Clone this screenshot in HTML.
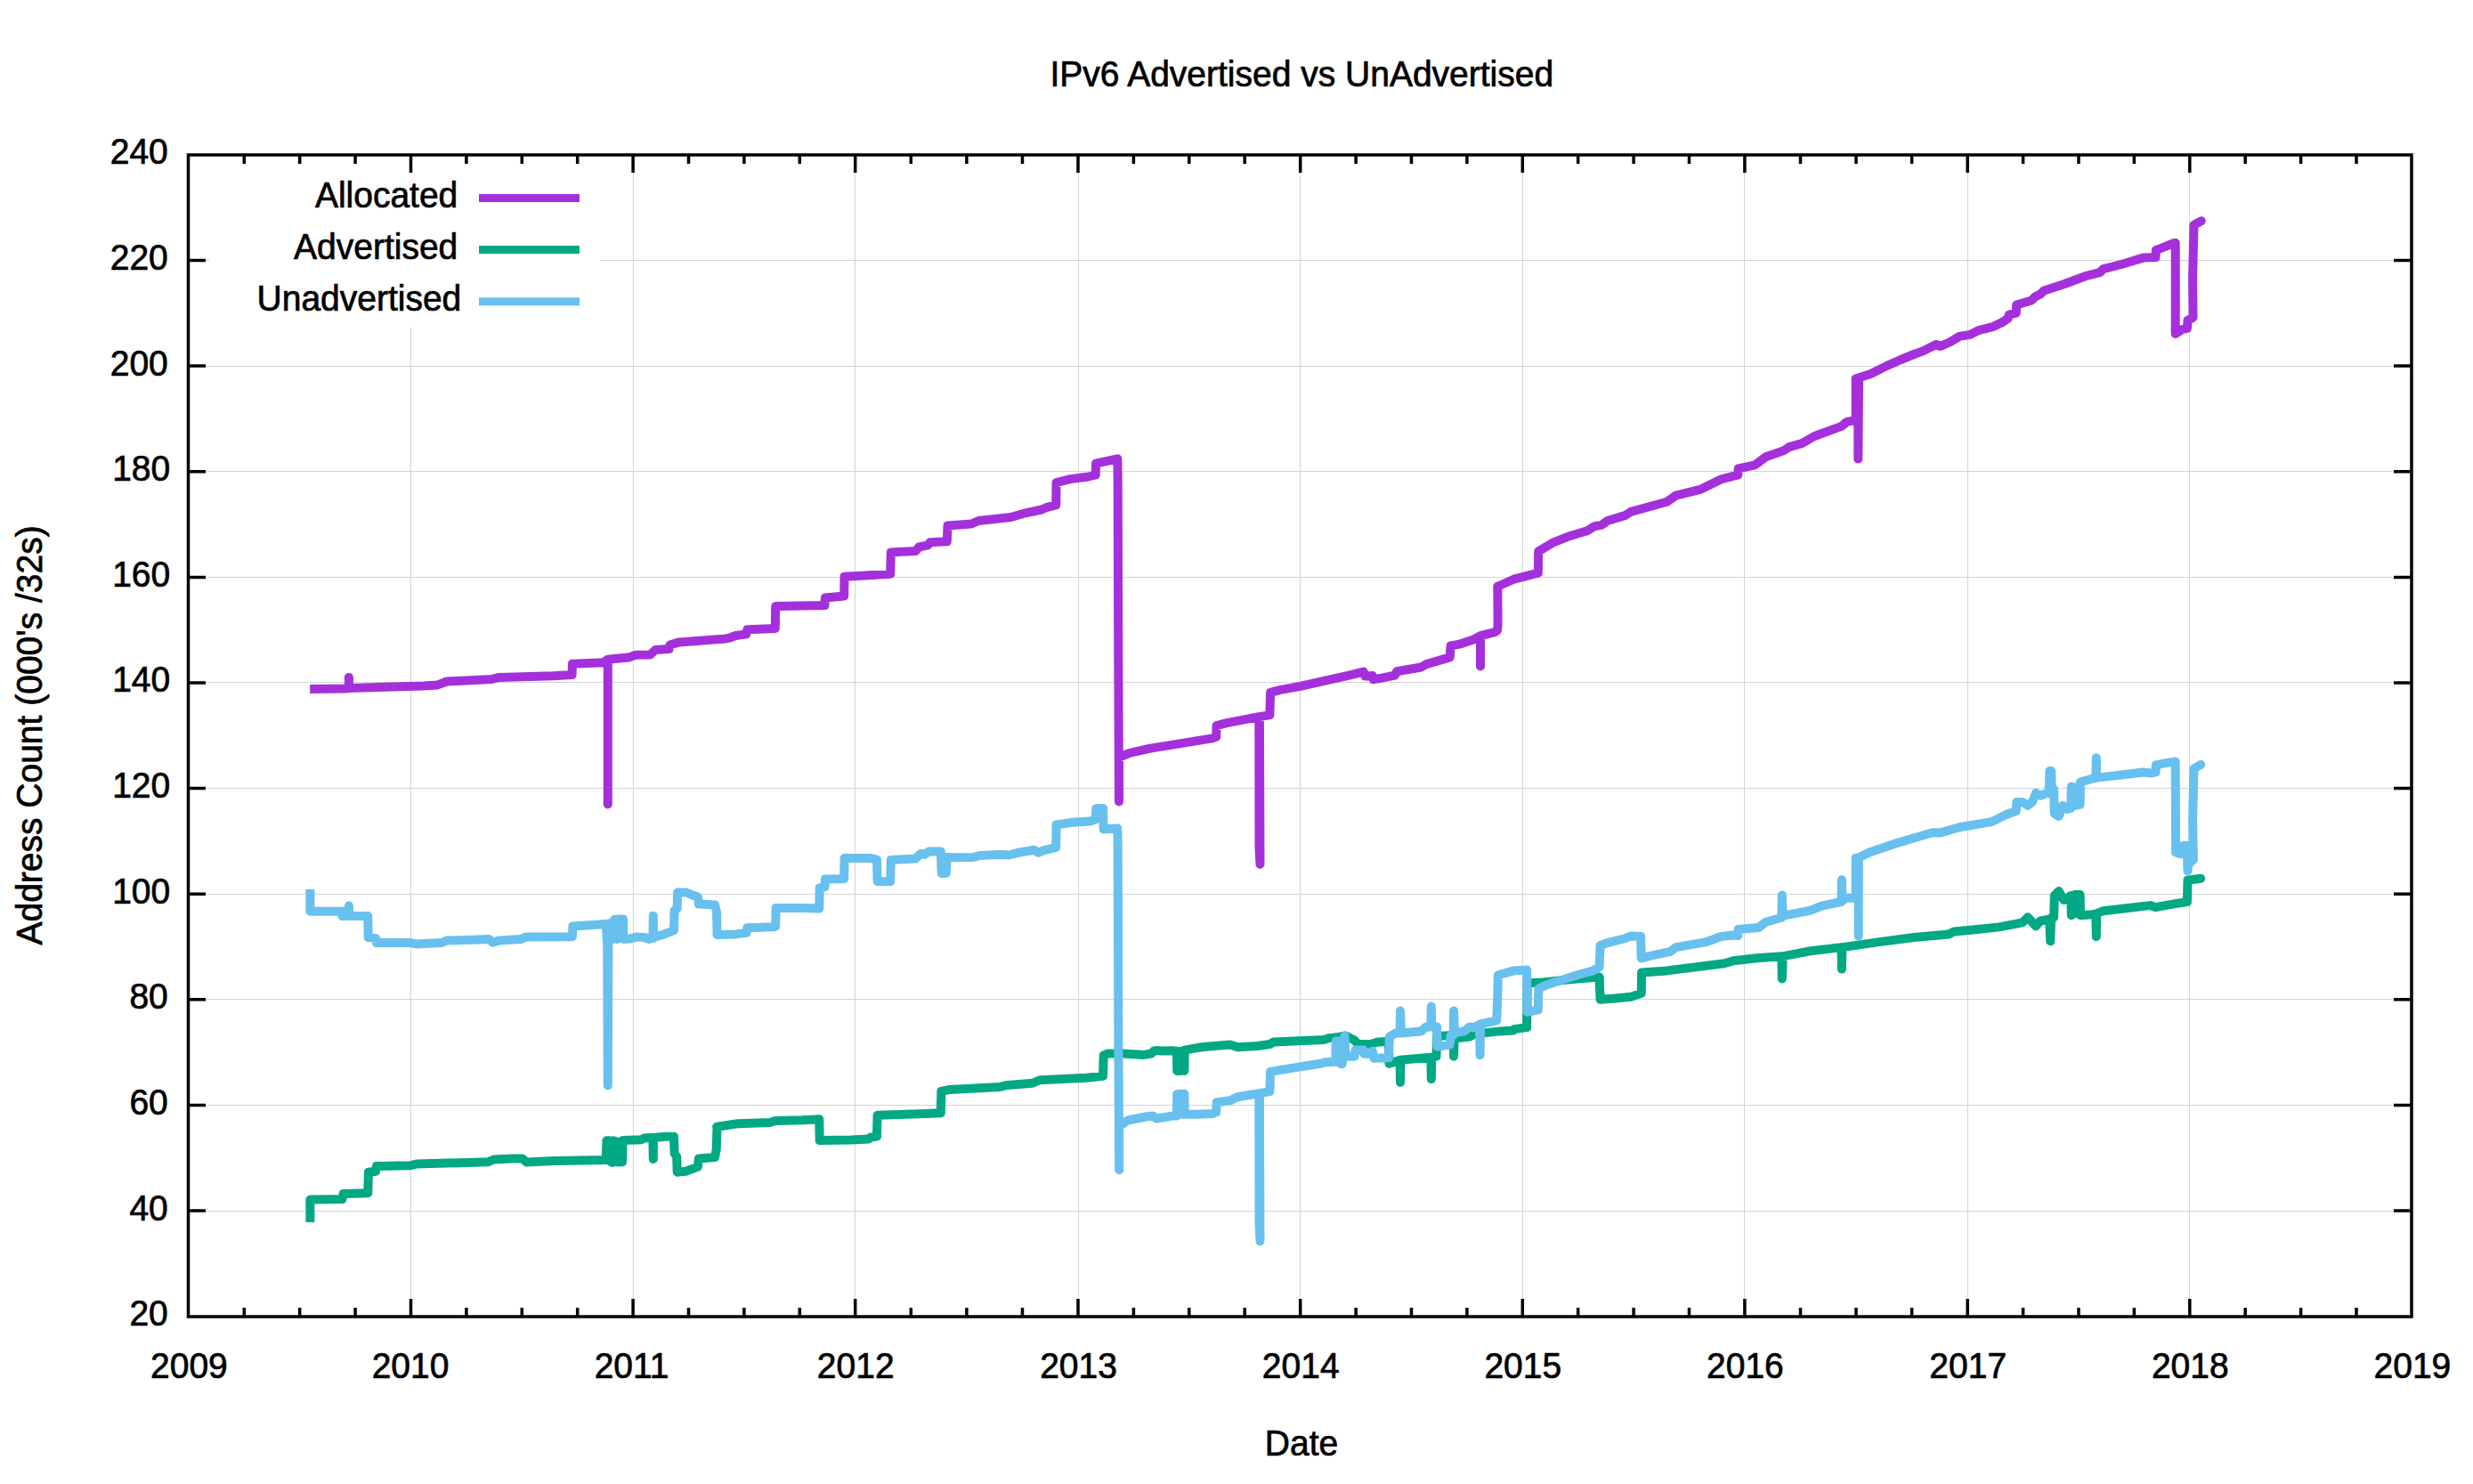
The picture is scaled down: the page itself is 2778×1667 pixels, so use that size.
<!DOCTYPE html>
<html><head><meta charset="utf-8"><title>IPv6 Advertised vs UnAdvertised</title>
<style>html,body{margin:0;padding:0;background:#fff;}svg{display:block;}text{font-family:"Liberation Sans",sans-serif;font-size:39px;fill:#000;}</style></head><body>
<svg width="2778" height="1667" viewBox="0 0 2778 1667">
<rect width="2778" height="1667" fill="#fff"/>
<path d="M461.5 174.0V1479.0M711.5 174.0V1479.0M960.5 174.0V1479.0M1211.5 174.0V1479.0M1460.5 174.0V1479.0M1710.5 174.0V1479.0M1959.5 174.0V1479.0M2210.5 174.0V1479.0M2459.5 174.0V1479.0M211.5 1360.5H2709.0M211.5 1241.5H2709.0M211.5 1122.5H2709.0M211.5 1004.5H2709.0M211.5 885.5H2709.0M211.5 766.5H2709.0M211.5 648.5H2709.0M211.5 529.5H2709.0M211.5 411.5H2709.0M211.5 292.5H2709.0" stroke="#d4d4d4" stroke-width="1" fill="none" shape-rendering="crispEdges"/>
<circle cx="2473.0" cy="248.1" r="4.8" fill="#a430db"/><path d="M348.2 774.0 L387.6 773.4 L391.9 773.0 L391.9 760.9 L391.9 773.0 L425.0 772.0 L475.6 770.4 L491.7 769.4 L501.9 765.5 L552.4 762.9 L560.5 760.9 L621.1 759.3 L642.6 758.0 L643.0 745.7 L677.8 744.3 L682.8 740.7 L682.8 903.4 L682.8 740.7 L706.1 738.6 L714.1 735.8 L730.3 735.4 L736.4 730.1 L751.6 729.1 L752.6 724.5 L762.7 721.4 L815.2 717.4 L820.2 716.4 L826.3 714.0 L838.4 712.4 L839.4 707.3 L870.8 705.9 L871.2 681.1 L926.4 680.1 L927.0 671.6 L948.2 669.5 L948.6 647.7 L967.8 646.7 L1000.2 644.7 L1000.8 620.4 L1028.5 619.0 L1032.5 614.3 L1042.6 612.3 L1044.6 609.3 L1063.8 608.3 L1064.5 590.5 L1091.1 588.5 L1099.2 585.0 L1135.6 581.0 L1151.8 576.3 L1170.0 572.5 L1176.1 569.9 L1186.2 567.4 L1186.6 542.2 L1202.3 538.1 L1222.6 535.5 L1230.7 533.5 L1231.1 520.7 L1255.3 515.3 L1255.7 536.5 L1256.3 739.9 L1257.0 900.4 L1257.0 850.6 L1268.7 846.0 L1291.0 840.9 L1361.7 829.4 L1366.2 827.8 L1366.6 815.2 L1377.9 812.2 L1414.3 805.1 L1414.5 951.7 L1415.5 970.9 L1414.9 805.1 L1426.4 803.1 L1427.1 777.8 L1438.6 774.8 L1460.8 770.8 L1515.4 758.6 L1531.6 754.6 L1533.6 759.6 L1541.7 759.0 L1542.7 763.1 L1551.8 761.7 L1567.0 758.6 L1569.0 754.2 L1596.3 749.5 L1602.3 746.1 L1628.6 738.4 L1629.6 725.3 L1640.8 723.3 L1654.9 718.6 L1663.0 714.2 L1663.0 748.5 L1663.0 714.2 L1679.2 710.1 L1682.2 708.1 L1682.6 700.0 L1682.3 658.8 L1700.5 650.7 L1727.8 643.6 L1728.2 619.4 L1745.0 609.3 L1763.2 602.2 L1783.4 596.1 L1791.5 591.1 L1799.6 589.6 L1805.7 585.0 L1825.9 578.9 L1832.0 574.9 L1872.4 563.8 L1882.5 556.7 L1910.8 549.6 L1933.1 538.5 L1952.3 533.4 L1952.7 526.4 L1971.5 522.3 L1983.6 513.2 L2003.8 506.1 L2009.9 502.1 L2024.0 498.1 L2038.2 490.0 L2068.5 478.9 L2074.6 473.8 L2084.7 471.8 L2084.7 425.3 L2087.3 424.7 L2087.3 515.6 L2088.1 424.3 L2100.9 420.2 L2119.1 411.1 L2135.2 404.0 L2150.0 398.0 L2160.7 394.1 L2174.8 387.0 L2179.9 389.0 L2191.0 384.0 L2201.1 377.9 L2213.2 375.9 L2223.3 370.8 L2239.5 366.8 L2249.6 361.7 L2255.7 357.7 L2256.7 353.7 L2264.8 351.6 L2265.2 342.5 L2282.0 337.5 L2286.0 333.4 L2292.1 330.4 L2296.1 326.4 L2318.4 319.3 L2342.6 310.2 L2358.8 306.1 L2362.8 302.1 L2383.1 297.0 L2407.3 289.6 L2421.5 289.0 L2421.9 280.9 L2427.5 278.9 L2441.7 273.2 L2443.7 272.8 L2443.7 374.9 L2451.8 369.8 L2456.9 368.8 L2457.5 359.7 L2463.5 356.7 L2463.1 311.2 L2464.5 252.6 L2473.0 248.1" stroke="#a430db" stroke-width="10" fill="none" stroke-linejoin="round" stroke-linecap="butt"/>
<circle cx="2472.4" cy="986.8" r="4.8" fill="#00a983"/><path d="M348.4 1372.9 L348.4 1347.6 L384.6 1347.0 L385.6 1341.0 L413.3 1340.3 L413.9 1316.7 L422.0 1315.7 L423.0 1310.0 L461.4 1309.2 L467.5 1307.6 L501.9 1306.6 L548.4 1305.2 L554.4 1302.5 L574.6 1301.5 L586.8 1301.5 L591.8 1305.6 L623.2 1304.0 L680.8 1303.1 L681.4 1281.3 L684.8 1281.3 L685.4 1304.6 L687.9 1306.0 L688.9 1281.3 L692.3 1282.3 L693.9 1305.6 L699.0 1305.2 L699.6 1280.9 L720.2 1280.3 L724.3 1278.3 L733.4 1277.9 L733.8 1302.1 L734.0 1277.9 L747.5 1276.7 L757.0 1276.7 L757.6 1295.5 L760.2 1299.5 L760.7 1316.7 L770.8 1315.7 L783.9 1310.6 L784.9 1301.5 L803.1 1299.9 L804.7 1291.4 L805.5 1266.1 L805.1 1265.8 L828.3 1262.3 L864.7 1260.9 L870.8 1258.9 L901.1 1258.3 L920.3 1257.3 L920.7 1281.1 L955.7 1280.5 L975.9 1279.5 L977.9 1277.5 L985.0 1276.5 L985.6 1252.8 L1032.5 1251.2 L1056.8 1250.2 L1057.4 1225.9 L1066.9 1223.9 L1123.5 1220.9 L1131.6 1218.9 L1159.9 1216.8 L1168.0 1213.2 L1220.5 1210.8 L1239.1 1208.7 L1239.7 1185.5 L1244.8 1183.5 L1261.0 1183.5 L1285.2 1184.9 L1293.3 1183.5 L1296.4 1180.4 L1300.0 1180.0 L1305.1 1180.5 L1317.3 1180.3 L1321.9 1180.7 L1322.3 1202.9 L1326.4 1202.9 L1326.4 1180.7 L1330.4 1180.7 L1330.4 1202.9 L1330.8 1179.6 L1341.5 1177.6 L1351.6 1176.0 L1382.0 1173.6 L1390.1 1176.2 L1412.3 1175.0 L1426.4 1173.0 L1430.5 1170.5 L1487.1 1168.1 L1493.2 1166.1 L1503.3 1164.9 L1511.4 1163.5 L1521.5 1168.5 L1525.5 1173.0 L1539.7 1173.0 L1547.8 1170.5 L1559.9 1170.1 L1560.5 1194.8 L1572.6 1190.8 L1573.0 1216.0 L1573.4 1190.8 L1584.1 1189.8 L1607.4 1187.7 L1607.8 1212.2 L1608.2 1187.7 L1613.5 1186.7 L1614.1 1164.1 L1632.7 1162.9 L1633.1 1186.7 L1633.5 1165.5 L1637.7 1166.1 L1650.9 1164.5 L1656.9 1161.4 L1685.2 1158.4 L1700.0 1157.4 L1700.5 1156.1 L1715.1 1154.1 L1715.7 1104.6 L1730.9 1103.6 L1771.3 1099.5 L1796.6 1097.5 L1797.6 1122.8 L1811.7 1121.7 L1832.0 1119.7 L1838.0 1117.7 L1843.7 1115.7 L1844.1 1092.4 L1872.4 1090.4 L1937.1 1082.3 L1947.2 1079.3 L1973.5 1076.3 L2001.4 1074.2 L2001.8 1099.5 L2002.8 1074.2 L2013.9 1072.2 L2034.1 1068.2 L2068.5 1064.1 L2068.9 1088.6 L2069.5 1064.1 L2111.0 1058.1 L2150.0 1053.0 L2189.0 1049.5 L2195.0 1046.4 L2221.3 1044.0 L2245.6 1041.4 L2271.9 1036.3 L2277.9 1030.3 L2287.0 1040.4 L2292.1 1034.3 L2302.2 1032.3 L2303.2 1057.2 L2304.2 1031.3 L2307.2 1030.3 L2307.8 1006.0 L2312.7 1001.0 L2318.4 1011.1 L2326.4 1006.0 L2326.8 1028.2 L2330.5 1026.2 L2330.9 1005.0 L2336.6 1005.0 L2337.0 1028.2 L2350.7 1027.2 L2354.3 1026.6 L2354.8 1052.1 L2355.2 1026.2 L2362.8 1023.2 L2415.4 1017.1 L2421.5 1019.2 L2443.7 1015.1 L2456.9 1013.1 L2457.5 988.8 L2472.4 986.8" stroke="#00a983" stroke-width="10" fill="none" stroke-linejoin="round" stroke-linecap="butt"/>
<circle cx="2472.4" cy="858.8" r="4.8" fill="#68c0ee"/><path d="M348.4 999.0 L348.4 1023.7 L387.6 1023.7 L391.9 1023.7 L391.9 1017.6 L391.9 1026.7 L384.6 1029.1 L413.3 1029.1 L413.7 1053.0 L422.0 1054.0 L423.0 1059.1 L461.4 1059.1 L467.5 1060.5 L495.8 1059.1 L501.9 1056.6 L549.4 1055.0 L553.4 1058.7 L560.5 1056.6 L584.8 1055.0 L590.8 1052.6 L643.0 1052.2 L643.4 1040.5 L673.7 1038.4 L680.8 1037.8 L682.2 1061.1 L682.8 1219.4 L683.4 1061.1 L685.8 1036.8 L687.9 1055.0 L690.3 1032.8 L692.9 1055.0 L694.9 1032.4 L700.0 1032.4 L700.4 1055.0 L708.1 1054.6 L714.1 1052.6 L724.3 1053.0 L729.3 1055.0 L733.4 1054.0 L733.8 1028.7 L734.2 1053.0 L744.5 1050.0 L752.6 1046.9 L757.0 1044.9 L757.6 1022.7 L760.7 1020.7 L761.1 1002.5 L770.8 1002.5 L777.8 1005.5 L783.9 1007.5 L784.9 1015.6 L803.1 1016.6 L805.1 1024.7 L805.5 1050.0 L826.3 1049.4 L838.4 1047.8 L839.4 1042.2 L868.7 1041.3 L871.2 1040.7 L871.6 1019.9 L901.1 1019.9 L920.3 1020.5 L920.7 997.3 L926.4 996.3 L927.0 987.6 L948.2 987.2 L948.6 963.9 L977.9 963.9 L985.0 965.9 L985.6 990.2 L1000.2 990.2 L1000.8 965.9 L1028.5 964.5 L1034.5 958.9 L1038.6 959.9 L1043.6 956.4 L1056.8 956.4 L1057.8 981.1 L1062.8 980.7 L1063.8 962.9 L1070.9 963.3 L1093.2 962.9 L1101.3 960.9 L1123.5 959.9 L1133.6 960.5 L1143.7 957.8 L1161.9 954.8 L1166.0 957.8 L1174.0 954.8 L1186.2 951.8 L1186.6 926.5 L1202.3 924.1 L1224.6 922.5 L1230.7 920.4 L1231.3 908.3 L1239.1 907.9 L1239.7 931.6 L1255.3 930.5 L1255.7 950.8 L1256.3 1134.8 L1256.2 1132.1 L1257.2 1314.3 L1257.2 1265.6 L1266.7 1258.5 L1286.9 1254.5 L1295.0 1253.4 L1299.1 1256.5 L1318.3 1253.4 L1321.9 1253.4 L1322.3 1229.2 L1326.4 1228.8 L1326.4 1251.4 L1330.4 1251.4 L1330.4 1228.8 L1330.8 1251.4 L1341.5 1251.8 L1361.7 1251.0 L1366.2 1249.4 L1366.8 1238.3 L1382.0 1236.3 L1390.1 1232.2 L1414.3 1228.2 L1414.5 1372.7 L1415.5 1394.2 L1414.9 1228.2 L1426.4 1226.1 L1427.1 1203.9 L1438.6 1201.9 L1483.1 1194.8 L1489.1 1193.2 L1500.2 1192.8 L1500.8 1169.5 L1505.3 1169.5 L1505.7 1194.8 L1507.7 1195.2 L1510.4 1163.5 L1511.4 1186.7 L1521.5 1186.7 L1522.5 1179.6 L1531.6 1179.6 L1532.6 1183.7 L1539.7 1183.7 L1541.7 1180.7 L1543.7 1188.7 L1559.9 1188.3 L1560.9 1164.5 L1568.0 1160.4 L1572.6 1160.4 L1573.0 1135.6 L1574.0 1160.4 L1596.3 1158.4 L1602.3 1153.4 L1607.4 1153.4 L1607.8 1130.5 L1608.2 1153.4 L1614.1 1153.4 L1614.5 1175.6 L1628.6 1173.6 L1629.6 1163.5 L1632.7 1162.5 L1633.1 1135.6 L1633.9 1160.4 L1644.8 1158.4 L1650.9 1153.4 L1654.9 1154.4 L1662.0 1151.3 L1662.6 1185.3 L1663.0 1150.3 L1681.2 1146.3 L1682.2 1120.0 L1682.8 1095.5 L1700.5 1090.4 L1715.1 1089.4 L1715.7 1136.9 L1727.8 1134.3 L1728.4 1110.6 L1736.9 1106.6 L1771.3 1095.5 L1789.5 1090.4 L1796.6 1086.4 L1797.6 1062.1 L1805.7 1059.1 L1825.9 1054.0 L1832.0 1051.4 L1843.1 1052.0 L1843.7 1076.3 L1852.2 1074.2 L1876.4 1068.8 L1882.5 1064.1 L1916.9 1058.1 L1933.1 1052.0 L1947.2 1050.6 L1952.3 1051.0 L1952.7 1043.9 L1975.5 1041.9 L1983.6 1035.8 L2001.4 1030.8 L2001.8 1005.5 L2002.8 1028.7 L2013.9 1026.7 L2034.1 1022.7 L2046.3 1017.6 L2068.5 1013.0 L2068.9 988.3 L2069.5 1011.6 L2074.6 1008.5 L2084.7 1008.9 L2084.7 964.0 L2087.9 963.4 L2087.7 1051.6 L2087.9 963.4 L2100.0 957.5 L2126.3 948.4 L2150.5 941.3 L2170.8 935.2 L2178.9 935.6 L2201.1 929.2 L2237.5 923.1 L2253.7 915.0 L2264.8 911.0 L2265.4 900.9 L2271.9 900.9 L2277.9 904.9 L2283.0 900.9 L2287.0 890.8 L2292.1 893.8 L2301.8 889.8 L2302.4 866.1 L2304.2 866.1 L2304.8 887.7 L2307.2 886.7 L2307.8 914.0 L2312.7 917.0 L2317.3 904.9 L2322.4 909.0 L2326.4 907.9 L2326.8 883.7 L2330.5 884.7 L2330.9 904.9 L2336.6 903.9 L2337.0 878.6 L2350.7 874.6 L2354.3 874.2 L2354.8 851.3 L2355.2 873.6 L2383.1 870.5 L2407.3 867.5 L2417.4 868.5 L2421.5 867.5 L2421.9 859.4 L2431.6 857.4 L2443.7 855.4 L2444.1 957.5 L2449.4 959.1 L2452.8 953.4 L2453.2 949.8 L2456.7 949.8 L2457.5 978.3 L2458.3 970.0 L2460.9 968.6 L2463.9 965.6 L2463.1 921.1 L2464.5 863.5 L2472.4 858.8" stroke="#68c0ee" stroke-width="10" fill="none" stroke-linejoin="round" stroke-linecap="butt"/>
<rect x="235" y="176" width="439" height="191.5" fill="#fff"/>
<path d="M538 222.4H651" stroke="#a430db" stroke-width="9"/>
<text transform="translate(514.3 232.6) scale(1 1.048)" text-anchor="end" stroke="#000" stroke-width="0.70">Allocated</text>
<path d="M538 280.6H651" stroke="#00a983" stroke-width="9"/>
<text transform="translate(514.3 290.8) scale(1 1.048)" text-anchor="end" stroke="#000" stroke-width="0.70">Advertised</text>
<path d="M538 338.8H651" stroke="#68c0ee" stroke-width="9"/>
<text transform="translate(518.3 349.0) scale(1 1.048)" text-anchor="end" stroke="#000" stroke-width="0.70">Unadvertised</text>
<path d="M274.3 174.0v10.0M274.3 1479.0v-10.0M336.7 174.0v10.0M336.7 1479.0v-10.0M399.1 174.0v10.0M399.1 1479.0v-10.0M461.5 174.0v20.0M461.5 1479.0v-20.0M523.9 174.0v10.0M523.9 1479.0v-10.0M586.3 174.0v10.0M586.3 1479.0v-10.0M648.7 174.0v10.0M648.7 1479.0v-10.0M711.1 174.0v20.0M711.1 1479.0v-20.0M773.5 174.0v10.0M773.5 1479.0v-10.0M835.9 174.0v10.0M835.9 1479.0v-10.0M898.3 174.0v10.0M898.3 1479.0v-10.0M960.7 174.0v20.0M960.7 1479.0v-20.0M1023.3 174.0v10.0M1023.3 1479.0v-10.0M1085.9 174.0v10.0M1085.9 1479.0v-10.0M1148.5 174.0v10.0M1148.5 1479.0v-10.0M1211.0 174.0v20.0M1211.0 1479.0v-20.0M1273.4 174.0v10.0M1273.4 1479.0v-10.0M1335.8 174.0v10.0M1335.8 1479.0v-10.0M1398.2 174.0v10.0M1398.2 1479.0v-10.0M1460.7 174.0v20.0M1460.7 1479.0v-20.0M1523.1 174.0v10.0M1523.1 1479.0v-10.0M1585.5 174.0v10.0M1585.5 1479.0v-10.0M1647.9 174.0v10.0M1647.9 1479.0v-10.0M1710.3 174.0v20.0M1710.3 1479.0v-20.0M1772.7 174.0v10.0M1772.7 1479.0v-10.0M1835.1 174.0v10.0M1835.1 1479.0v-10.0M1897.5 174.0v10.0M1897.5 1479.0v-10.0M1959.9 174.0v20.0M1959.9 1479.0v-20.0M2022.5 174.0v10.0M2022.5 1479.0v-10.0M2085.0 174.0v10.0M2085.0 1479.0v-10.0M2147.6 174.0v10.0M2147.6 1479.0v-10.0M2210.2 174.0v20.0M2210.2 1479.0v-20.0M2272.6 174.0v10.0M2272.6 1479.0v-10.0M2335.0 174.0v10.0M2335.0 1479.0v-10.0M2397.4 174.0v10.0M2397.4 1479.0v-10.0M2459.8 174.0v20.0M2459.8 1479.0v-20.0M2522.2 174.0v10.0M2522.2 1479.0v-10.0M2584.6 174.0v10.0M2584.6 1479.0v-10.0M2647.0 174.0v10.0M2647.0 1479.0v-10.0M211.5 1360.1h19.5M2709.0 1360.1h-20.0M211.5 1241.5h19.5M2709.0 1241.5h-20.0M211.5 1122.8h19.5M2709.0 1122.8h-20.0M211.5 1004.2h19.5M2709.0 1004.2h-20.0M211.5 885.6h19.5M2709.0 885.6h-20.0M211.5 767.0h19.5M2709.0 767.0h-20.0M211.5 648.4h19.5M2709.0 648.4h-20.0M211.5 529.7h19.5M2709.0 529.7h-20.0M211.5 411.1h19.5M2709.0 411.1h-20.0M211.5 292.5h19.5M2709.0 292.5h-20.0" stroke="#000" stroke-width="3.5" fill="none"/>
<rect x="211.5" y="174.0" width="2497.5" height="1305.0" fill="none" stroke="#000" stroke-width="3.5"/>
<text transform="translate(188.8 1489.1) scale(1 1.048)" text-anchor="end" stroke="#000" stroke-width="0.70">20</text>
<text transform="translate(188.8 1370.5) scale(1 1.048)" text-anchor="end" stroke="#000" stroke-width="0.70">40</text>
<text transform="translate(188.8 1251.9) scale(1 1.048)" text-anchor="end" stroke="#000" stroke-width="0.70">60</text>
<text transform="translate(188.8 1133.2) scale(1 1.048)" text-anchor="end" stroke="#000" stroke-width="0.70">80</text>
<text transform="translate(191.2 1014.6) scale(1 1.048)" text-anchor="end" stroke="#000" stroke-width="0.70">100</text>
<text transform="translate(191.2 896.0) scale(1 1.048)" text-anchor="end" stroke="#000" stroke-width="0.70">120</text>
<text transform="translate(191.2 777.4) scale(1 1.048)" text-anchor="end" stroke="#000" stroke-width="0.70">140</text>
<text transform="translate(191.2 658.8) scale(1 1.048)" text-anchor="end" stroke="#000" stroke-width="0.70">160</text>
<text transform="translate(191.2 540.1) scale(1 1.048)" text-anchor="end" stroke="#000" stroke-width="0.70">180</text>
<text transform="translate(188.8 421.5) scale(1 1.048)" text-anchor="end" stroke="#000" stroke-width="0.70">200</text>
<text transform="translate(188.8 302.9) scale(1 1.048)" text-anchor="end" stroke="#000" stroke-width="0.70">220</text>
<text transform="translate(188.8 184.3) scale(1 1.048)" text-anchor="end" stroke="#000" stroke-width="0.70">240</text>
<text transform="translate(212.4 1547.6) scale(1 1.048)" text-anchor="middle" stroke="#000" stroke-width="0.70">2009</text>
<text transform="translate(461.0 1547.6) scale(1 1.048)" text-anchor="middle" stroke="#000" stroke-width="0.70">2010</text>
<text transform="translate(709.6 1547.6) scale(1 1.048)" text-anchor="middle" stroke="#000" stroke-width="0.70">2011</text>
<text transform="translate(961.2 1547.6) scale(1 1.048)" text-anchor="middle" stroke="#000" stroke-width="0.70">2012</text>
<text transform="translate(1211.5 1547.6) scale(1 1.048)" text-anchor="middle" stroke="#000" stroke-width="0.70">2013</text>
<text transform="translate(1461.2 1547.6) scale(1 1.048)" text-anchor="middle" stroke="#000" stroke-width="0.70">2014</text>
<text transform="translate(1710.8 1547.6) scale(1 1.048)" text-anchor="middle" stroke="#000" stroke-width="0.70">2015</text>
<text transform="translate(1960.4 1547.6) scale(1 1.048)" text-anchor="middle" stroke="#000" stroke-width="0.70">2016</text>
<text transform="translate(2210.7 1547.6) scale(1 1.048)" text-anchor="middle" stroke="#000" stroke-width="0.70">2017</text>
<text transform="translate(2460.3 1547.6) scale(1 1.048)" text-anchor="middle" stroke="#000" stroke-width="0.70">2018</text>
<text transform="translate(2709.9 1547.6) scale(1 1.048)" text-anchor="middle" stroke="#000" stroke-width="0.70">2019</text>
<text transform="translate(1462.3 96.6) scale(1 1.048)" text-anchor="middle" stroke="#000" stroke-width="0.70">IPv6 Advertised vs UnAdvertised</text>
<text transform="translate(1462.0 1634.6) scale(1 1.048)" text-anchor="middle" stroke="#000" stroke-width="0.70">Date</text>
<text transform="translate(47.0 825.9) rotate(-90) scale(1 1.048)" text-anchor="middle" stroke="#000" stroke-width="0.70">Address Count (000's /32s)</text>
</svg></body></html>
